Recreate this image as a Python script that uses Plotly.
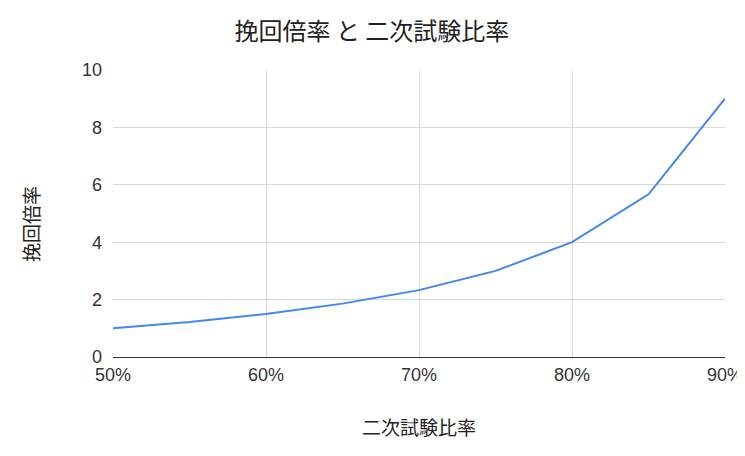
import plotly.graph_objects as go

# 二次試験比率 (fraction) and 挽回倍率
ratio = [0.50, 0.55, 0.60, 0.65, 0.70, 0.75, 0.80, 0.85, 0.90]
recovery = [1.0, 1.22, 1.5, 1.86, 2.33, 3.0, 4.0, 5.67, 9.0]

x_ticks = [0.5, 0.6, 0.7, 0.8, 0.9]
x_labels = ["50%", "60%", "70%", "80%", "90%"]
y_ticks = [0, 2, 4, 6, 8, 10]

FONT = "'Liberation Sans', Arial, 'Noto Sans CJK JP', sans-serif"
CJK = "'Noto Sans CJK JP', sans-serif"

fig = go.Figure(
    go.Scatter(
        x=ratio,
        y=recovery,
        mode="lines",
        line=dict(color="#4285F4", width=2),
        showlegend=False,
    )
)

# page body adds an 8px margin all round; keep the figure small enough
# that the page does not scroll
fig.update_layout(
    width=737,
    height=440,
    paper_bgcolor="white",
    plot_bgcolor="white",
    margin=dict(l=105, r=20, t=62, b=91),
    font=dict(family=FONT, size=18, color="#333333"),
    title=dict(
        text="挽回倍率 と 二次試験比率",
        x=(372 - 8) / 737,
        xanchor="center",
        y=1 - 24 / 440,
        yanchor="middle",
        font=dict(family=CJK, size=24, color="#222222"),
    ),
    xaxis=dict(
        range=[0.5, 0.9],
        tickvals=x_ticks,
        ticktext=x_labels,
        showgrid=True,
        gridcolor="#d9d9d9",
        gridwidth=1,
        zeroline=False,
        showline=False,
        ticks="",
        ticklabelstandoff=5,
        ticklabeloverflow="allow",
        automargin=False,
        title=dict(text="二次試験比率", font=dict(family=CJK, size=19, color="#222222"), standoff=37),
    ),
    yaxis=dict(
        range=[0, 10],
        tickvals=y_ticks,
        showgrid=True,
        gridcolor="#d9d9d9",
        gridwidth=1,
        zeroline=True,
        zerolinecolor="#333333",
        zerolinewidth=1,
        ticks="",
        ticklabelstandoff=10,
        automargin=False,
    ),
    annotations=[
        dict(
            text="挽回倍率",
            xref="paper",
            yref="paper",
            x=(30 - 113) / 612,
            y=(357 - 224) / 287,
            xanchor="center",
            yanchor="middle",
            textangle=-90,
            showarrow=False,
            font=dict(family=CJK, size=19, color="#222222"),
        )
    ],
)

# no scrollbars, so the "90%" label at the right edge is not cut
fig.write_html("out.html", post_script="document.body.style.overflow='hidden';")
